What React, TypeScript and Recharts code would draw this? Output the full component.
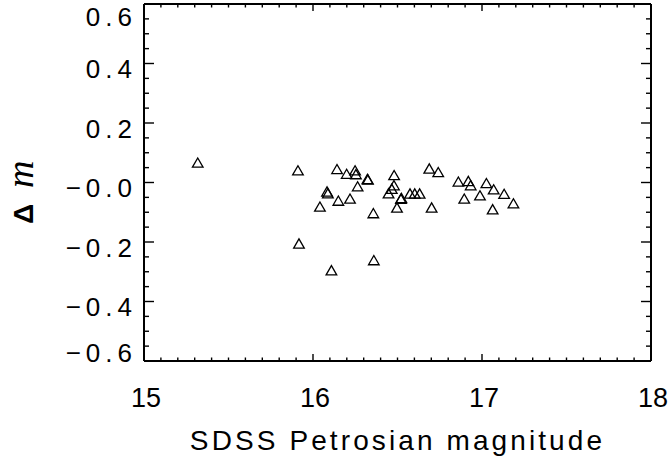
import React from 'react';
import { ScatterChart, Scatter, XAxis, YAxis, Label } from 'recharts';

// SDSS Petrosian magnitude vs. magnitude difference
const magnitudes = [
  15.318, 15.911, 16.142, 16.199, 16.249, 16.254, 16.325, 16.322, 16.264, 16.083, 16.088,
  16.15, 16.219, 16.041, 16.357, 15.917, 16.109, 16.36, 16.48, 16.479, 16.466, 16.447,
  16.52, 16.523, 16.574, 16.602, 16.631, 16.497, 16.688, 16.741, 16.702, 16.86, 16.919,
  16.933, 17.026, 17.069, 17.131, 16.895, 16.988, 17.186, 17.063,
];
const deltaM = [
  0.067, 0.041, 0.045, 0.029, 0.041, 0.028, 0.01, 0.012, -0.013, -0.03, -0.036,
  -0.061, -0.054, -0.081, -0.103, -0.205, -0.295, -0.261, 0.025, -0.009, -0.021, -0.036,
  -0.055, -0.052, -0.037, -0.037, -0.037, -0.084, 0.047, 0.035, -0.084, 0.003, 0.005,
  -0.009, -0.002, -0.023, -0.038, -0.054, -0.043, -0.07, -0.09,
];

const xTicks = [
  15, 15.1, 15.2, 15.3, 15.4, 15.5, 15.6, 15.7, 15.8, 15.9,
  16, 16.1, 16.2, 16.3, 16.4, 16.5, 16.6, 16.7, 16.8, 16.9,
  17, 17.1, 17.2, 17.3, 17.4, 17.5, 17.6, 17.7, 17.8, 17.9, 18,
];
const xMajorTicks = [15, 16, 17, 18];
const xTickLabels = ['15', '16', '17', '18'];

const yTicks = [
  -0.6, -0.55, -0.5, -0.45, -0.4, -0.35, -0.3, -0.25, -0.2, -0.15, -0.1, -0.05,
  0, 0.05, 0.1, 0.15, 0.2, 0.25, 0.3, 0.35, 0.4, 0.45, 0.5, 0.55, 0.6,
];
const yMajorTicks = [-0.6, -0.4, -0.2, 0, 0.2, 0.4, 0.6];
const yTickLabels = ['\u22120.6', '\u22120.4', '\u22120.2', '\u22120.0', '0.2', '0.4', '0.6'];

const data = magnitudes.map((m, i) => ({ x: m, y: deltaM[i] }));

const FONT = '"Liberation Sans", Arial, sans-serif';
const INK = '#000';

const majorIndex = (list: number[], v: number) => list.findIndex((t) => Math.abs(t - v) < 1e-6);

const BottomTick = (props: any) => {
  const { x, y, payload } = props;
  const idx = majorIndex(xMajorTicks, payload.value);
  const len = idx >= 0 ? 7 : 3.5;
  return (
    <g>
      <line x1={x} y1={y} x2={x} y2={y - len} stroke={INK} strokeWidth={1.4} />
      {idx >= 0 && (
        <text x={x + 2} y={y + 45.5} textAnchor="middle" fontFamily={FONT} fontSize={27} fill={INK}>
          {xTickLabels[idx]}
        </text>
      )}
    </g>
  );
};

const TopTick = (props: any) => {
  const { x, y, payload } = props;
  const len = majorIndex(xMajorTicks, payload.value) >= 0 ? 7 : 3.5;
  return <line x1={x} y1={y} x2={x} y2={y + len} stroke={INK} strokeWidth={1.4} />;
};

const LeftTick = (props: any) => {
  const { x, y, payload } = props;
  const idx = majorIndex(yMajorTicks, payload.value);
  const len = idx >= 0 ? 10 : 5;
  // IDL keeps the end labels inside the axis span
  let dy = 14.5;
  if (idx === yMajorTicks.length - 1) dy = 22;
  if (idx === 0) dy = 1;
  return (
    <g>
      <line x1={x} y1={y} x2={x + len} y2={y} stroke={INK} strokeWidth={1.4} />
      {idx >= 0 && (
        <text x={x - 7} y={y + dy} textAnchor="end" fontFamily={FONT} fontSize={26} letterSpacing={5} fill={INK}>
          {yTickLabels[idx]}
        </text>
      )}
    </g>
  );
};

const RightTick = (props: any) => {
  const { x, y, payload } = props;
  const len = majorIndex(yMajorTicks, payload.value) >= 0 ? 10 : 5;
  return <line x1={x} y1={y} x2={x - len} y2={y} stroke={INK} strokeWidth={1.4} />;
};

const Triangle = (props: any) => {
  const { cx, cy } = props;
  return (
    <path
      d={`M${cx - 5.3},${cy + 4.6} L${cx},${cy - 4.6} L${cx + 5.3},${cy + 4.6} Z`}
      fill="none"
      stroke={INK}
      strokeWidth={1.3}
      strokeLinejoin="miter"
    />
  );
};

const XTitle = (props: any) => {
  const vb = props.viewBox;
  return (
    <text x={vb.x + vb.width / 2} y={vb.y + 89} textAnchor="middle" fontFamily={FONT} fontSize={28} letterSpacing={3.1} fill={INK}>
      SDSS Petrosian magnitude
    </text>
  );
};

const YTitle = () => (
  <text transform="translate(33,224) rotate(-90)" fill={INK}>
    <tspan x={0} y={0} fontFamily={FONT} fontWeight="bold" fontSize={28}>Δ</tspan>
    <tspan x={36} y={0} fontFamily='"Liberation Serif", serif' fontStyle="italic" fontSize={38}>m</tspan>
  </text>
);

const axisLine = { stroke: INK, strokeWidth: 2 };

export default function App() {
  return (
    <div style={{ position: 'absolute', left: 0, top: 0, background: '#fff' }}>
      <ScatterChart width={671} height={458} margin={{ top: 3, right: 19, bottom: 96, left: 143 }}>
        <XAxis
          xAxisId="b"
          type="number"
          dataKey="x"
          domain={[15, 18]}
          ticks={xTicks}
          interval={0}
          height={1}
          tickSize={0}
          tickMargin={0}
          tickLine={false}
          axisLine={axisLine}
          tick={<BottomTick />}
          allowDataOverflow
        >
          <Label content={<XTitle />} />
        </XAxis>
        <XAxis
          xAxisId="t"
          orientation="top"
          type="number"
          dataKey="x"
          domain={[15, 18]}
          ticks={xTicks}
          interval={0}
          height={1}
          tickSize={0}
          tickMargin={0}
          tickLine={false}
          axisLine={axisLine}
          tick={<TopTick />}
          allowDataOverflow
        />
        <YAxis
          yAxisId="l"
          type="number"
          dataKey="y"
          domain={[-0.6, 0.6]}
          ticks={yTicks}
          interval={0}
          width={1}
          tickSize={0}
          tickMargin={0}
          tickLine={false}
          axisLine={axisLine}
          tick={<LeftTick />}
          allowDataOverflow
        >
          <Label content={<YTitle />} />
        </YAxis>
        <YAxis
          yAxisId="r"
          orientation="right"
          type="number"
          dataKey="y"
          domain={[-0.6, 0.6]}
          ticks={yTicks}
          interval={0}
          width={1}
          tickSize={0}
          tickMargin={0}
          tickLine={false}
          axisLine={axisLine}
          tick={<RightTick />}
          allowDataOverflow
        />
        <Scatter xAxisId="b" yAxisId="l" data={data} shape={<Triangle />} isAnimationActive={false} />
      </ScatterChart>
    </div>
  );
}
